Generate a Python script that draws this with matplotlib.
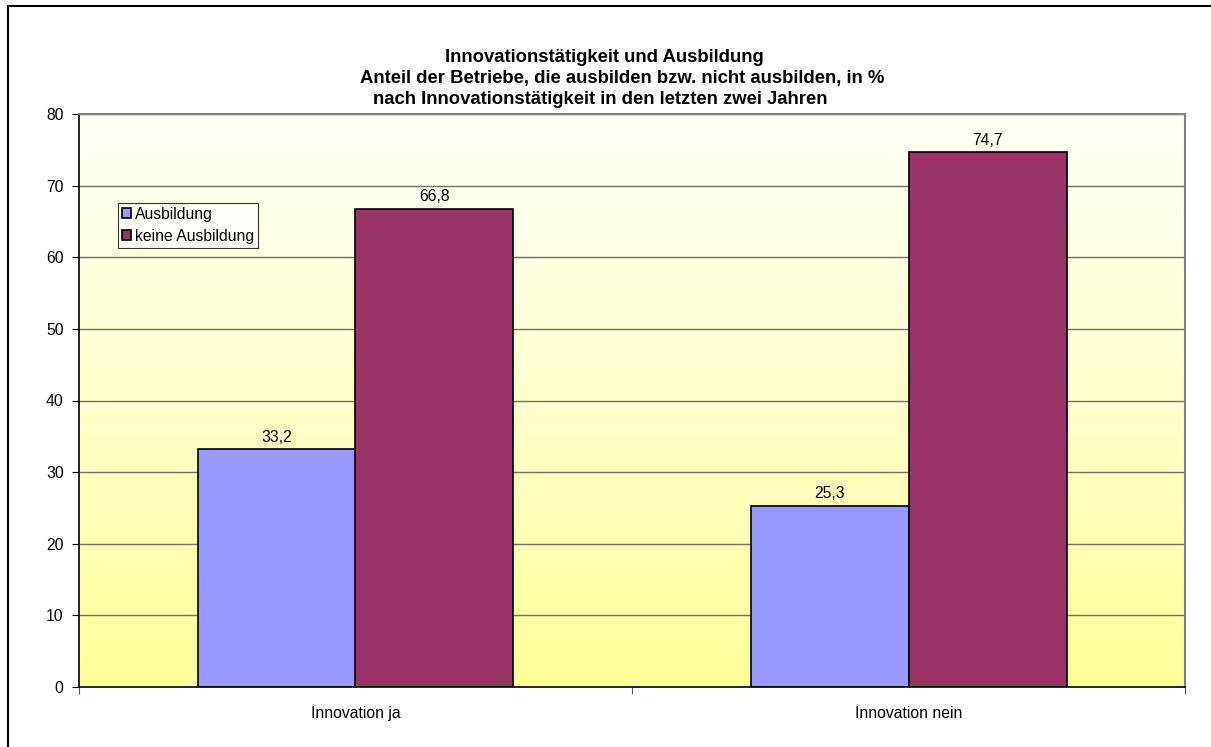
import numpy as np
import matplotlib
matplotlib.use("Agg")
import matplotlib.pyplot as plt
from matplotlib.colors import LinearSegmentedColormap
from matplotlib.patches import Rectangle

plt.rcParams['font.family'] = ['Liberation Sans', 'DejaVu Sans']

categories = ["Innovation ja", "Innovation nein"]
series_names = ["Ausbildung", "keine Ausbildung"]
ausbildung = [33.2, 25.3]
keine_ausbildung = [66.8, 74.7]
value_labels = [["33,2", "25,3"], ["66,8", "74,7"]]
yticks = [0, 10, 20, 30, 40, 50, 60, 70, 80]
title_lines = [
    "Innovationstätigkeit und Ausbildung",
    "Anteil der Betriebe, die ausbilden bzw. nicht ausbilden, in %",
    "nach Innovationstätigkeit in den letzten zwei Jahren",
]

W, H = 1211, 747
FS = 11.3
fig = plt.figure(figsize=(W / 100, H / 100), dpi=100)
fig.patch.set_facecolor("white")

# chart frame
fig.patches.append(Rectangle((8 / W, -0.05), 1.2, 1 - 6 / H + 0.05,
                             transform=fig.transFigure, fill=False,
                             edgecolor="black", linewidth=1.5))

ax = fig.add_axes([79 / W, (H - 687) / H, 1106 / W, 573 / H])
ax.set_xlim(0, 2)
ax.set_ylim(0, 80)

# vertical gradient background
cmap = LinearSegmentedColormap.from_list("bg", ["#ffff99", "#ffffcc", "#fffff8"])
grad = np.linspace(0, 1, 256).reshape(-1, 1)
ax.imshow(grad, cmap=cmap, aspect="auto", extent=[0, 2, 0, 80],
          origin="lower", zorder=0)

for y in yticks[1:]:
    ax.axhline(y, color="#707070", linewidth=1, zorder=1)

bar_w = 1 / 3.5
centers = np.arange(len(categories)) + 0.5
colors = ["#9999ff", "#993366"]
for i, (vals, col) in enumerate(zip([ausbildung, keine_ausbildung], colors)):
    xs = centers + (i - 0.5) * bar_w
    ax.bar(xs, vals, width=bar_w, color=col, edgecolor="black",
           linewidth=1.2, label=series_names[i], zorder=2)
    for x, v, t in zip(xs, vals, value_labels[i]):
        ax.text(x, v + 1.65, t, ha="center", va="center", fontsize=FS, zorder=3)

ax.set_yticks(yticks)
ax.tick_params(axis="y", direction="out", length=5, labelsize=FS, pad=6)
ax.set_xticks([0, 1, 2])
ax.set_xticklabels([])
ax.set_xticks(centers, minor=True)
ax.set_xticklabels(categories, minor=True)
ax.tick_params(axis="x", which="major", direction="out", length=5, color="#555555")
ax.tick_params(axis="x", which="minor", length=0, labelsize=FS, pad=14)

for s in ["top", "right"]:
    ax.spines[s].set_color("#808080")
    ax.spines[s].set_linewidth(1.5)
for s in ["left", "bottom"]:
    ax.spines[s].set_color("black")
    ax.spines[s].set_linewidth(1.2)
ax.spines["top"].set_zorder(4)

leg = ax.legend(loc="upper left", bbox_to_anchor=((118 - 79) / 1106, (687 - 203) / 573),
                fontsize=FS, frameon=True, fancybox=False, edgecolor="black",
                handlelength=0.6, handleheight=0.6, handletextpad=0.25,
                borderpad=0.25, labelspacing=0.45, borderaxespad=0)
leg.get_frame().set_linewidth(0.8)
leg.get_frame().set_facecolor("white")

starts_px = [445, 360, 373]
baselines_px = [62, 83, 104]
for line, sx, by in zip(title_lines, starts_px, baselines_px):
    fig.text(sx / W, 1 - by / H, line, ha="left", va="baseline",
             fontsize=13.3, fontweight="bold")

fig.savefig("out.png", dpi=100)
